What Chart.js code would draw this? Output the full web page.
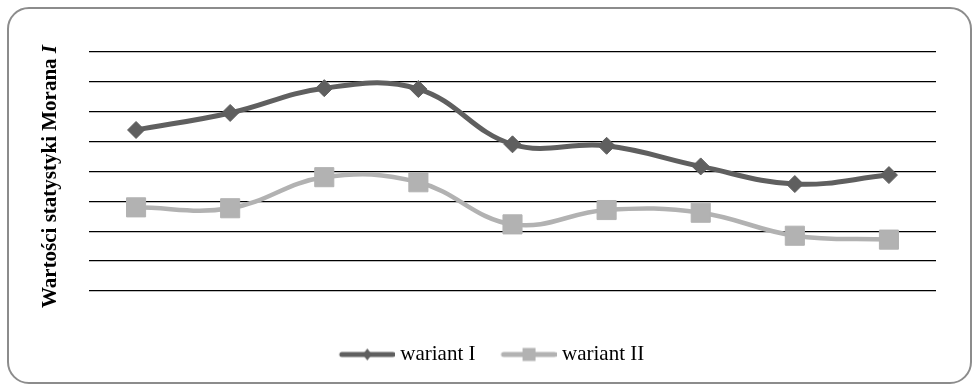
<!DOCTYPE html>
<html>
<head>
<meta charset="utf-8">
<script src="https://cdn.jsdelivr.net/npm/chart.js@4.4.0/dist/chart.umd.min.js"></script>
<style>
  html, body { margin: 0; padding: 0; background: #fff; }
  #frame {
    position: absolute; left: 7px; top: 7px; width: 965px; height: 377px;
    box-sizing: border-box; border: 2px solid #8c8c8c; border-radius: 22px;
  }
  #chart { position: absolute; left: 0; top: 0; }
</style>
</head>
<body>
<div id="frame"></div>
<canvas id="chart" width="973" height="387"></canvas>
<script>
const categories = ["1", "2", "3", "4", "5", "6", "7", "8", "9"];
const wariantI = [0.539, 0.596, 0.679, 0.676, 0.491, 0.486, 0.417, 0.358, 0.388];
const wariantII = [0.280, 0.277, 0.381, 0.364, 0.223, 0.271, 0.262, 0.185, 0.172];
const seriesNames = ["wariant I", "wariant II"];
const yMin = 0;
const yMax = 0.8;
const yStep = 0.1;

const darkGray = "#5f5f5f";
const lightGray = "#b2b2b2";
const serif = "'Liberation Serif', 'Times New Roman', serif";

// little line + marker picture used as legend symbol
function legendSample(color, marker) {
  let c = document.createElement("canvas");
  c.width = 76;
  c.height = 16;
  let g = c.getContext("2d");
  g.strokeStyle = color;
  g.lineWidth = 5;
  g.lineCap = "round";
  g.beginPath();
  g.moveTo(23, 8);
  g.lineTo(74, 8);
  g.stroke();
  g.fillStyle = color;
  if (marker == "diamond") {
    g.beginPath();
    g.moveTo(48.5, 2);
    g.lineTo(53, 8);
    g.lineTo(48.5, 14);
    g.lineTo(44, 8);
    g.closePath();
    g.fill();
  } else {
    g.fillRect(42, 1.5, 13, 13);
  }
  return c;
}

const samples = [legendSample(darkGray, "diamond"), legendSample(lightGray, "square")];

// y axis title with italic "I"
const yTitlePlugin = {
  id: "yTitle",
  afterDraw(chart) {
    let ctx = chart.ctx;
    let partA = "Wartości statystyki Morana ";
    let partB = "I";
    let fontA = "bold 21px " + serif;
    let fontB = "italic bold 21px " + serif;
    ctx.save();
    ctx.font = fontA;
    let wA = ctx.measureText(partA).width;
    ctx.font = fontB;
    let wB = ctx.measureText(partB).width;
    let total = wA + wB;
    ctx.translate(55.5, 176.5);
    ctx.rotate(-Math.PI / 2);
    ctx.fillStyle = "#000";
    ctx.textBaseline = "alphabetic";
    ctx.textAlign = "left";
    ctx.font = fontA;
    ctx.fillText(partA, -total / 2, 0);
    ctx.font = fontB;
    ctx.fillText(partB, -total / 2 + wA, 0);
    ctx.restore();
  },
};

new Chart(document.getElementById("chart"), {
  type: "line",
  data: {
    labels: categories,
    datasets: [
      {
        label: seriesNames[0],
        data: wariantI,
        borderColor: darkGray,
        backgroundColor: darkGray,
        borderWidth: 5,
        pointStyle: "rectRot",
        pointRadius: 8.5,
        pointBorderWidth: 1,
        tension: 0.4,
      },
      {
        label: seriesNames[1],
        data: wariantII,
        borderColor: lightGray,
        backgroundColor: lightGray,
        borderWidth: 4.5,
        pointStyle: "rect",
        pointRadius: 13.5,
        pointBorderWidth: 1,
        tension: 0.4,
      },
    ],
  },
  options: {
    responsive: false,
    animation: false,
    layout: {
      padding: { left: 32, right: 37, top: 52, bottom: 12 },
    },
    scales: {
      x: {
        offset: true,
        grid: { display: false, drawTicks: false },
        border: { display: false },
        ticks: { display: false },
        afterFit: function (scale) {
          scale.height = 43;
        },
      },
      y: {
        min: yMin,
        max: yMax,
        ticks: { display: false, stepSize: yStep },
        grid: { color: "#000", lineWidth: 1.3, drawTicks: false },
        border: { display: false },
        afterFit: function (scale) {
          scale.width = 57;
        },
      },
    },
    plugins: {
      tooltip: { enabled: false },
      legend: {
        position: "bottom",
        labels: {
          usePointStyle: true,
          pointStyleWidth: 66,
          padding: 10,
          color: "#000",
          font: { family: serif, size: 21 },
          generateLabels: function (chart) {
            return chart.data.datasets.map(function (ds, i) {
              return {
                text: ds.label,
                pointStyle: samples[i],
                fillStyle: ds.borderColor,
                strokeStyle: ds.borderColor,
                lineWidth: 0,
                hidden: false,
                datasetIndex: i,
                fontColor: "#000",
              };
            });
          },
        },
      },
    },
  },
  plugins: [yTitlePlugin],
});
</script>
</body>
</html>
